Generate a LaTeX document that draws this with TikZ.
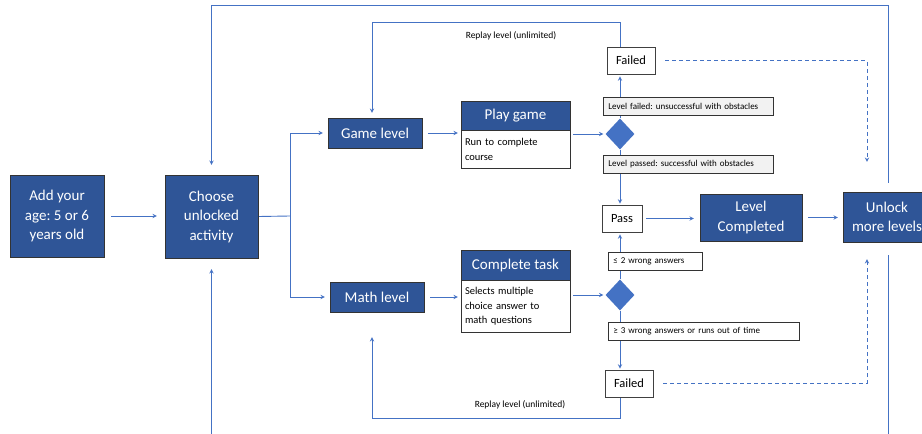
\documentclass[tikz,border=0pt]{standalone}
\usepackage{fontspec}
\setmainfont{Carlito}
\frenchspacing
\usetikzlibrary{positioning}
\usetikzlibrary{backgrounds}
\usetikzlibrary{shapes.geometric}
\definecolor{boxblue}{HTML}{2F5597}
\definecolor{lineblue}{HTML}{4472C4}
\definecolor{labelgray}{HTML}{F2F2F2}
\def\mybig{\fontsize{15}{19.5}\selectfont}
\def\mysmall{\fontsize{9}{11}\selectfont}
\tikzset{
semithick, % thin lines
>=stealth, % small arrow heads
my node/.style={inner sep=1mm,align=center},
my box/.style={my node,draw=black!80,fill=boxblue,text=white,font=\mybig},
my state/.style={my node,draw=black!75,fill=white,line width=.9pt,font=\fontsize{12.5}{15}\selectfont},
task head/.style={my box,minimum width=109pt,minimum height=29pt},
task body/.style={my node,draw=black!80,fill=white,text width=101pt,inner sep=4pt,align=left,font=\fontsize{10.5}{14.5}\selectfont},
decision/.style={diamond,fill=lineblue,minimum width=29pt,minimum height=31pt,inner sep=0pt},
cond/.style={my node,draw=black!80,line width=.9pt,inner xsep=5pt,inner ysep=2pt,align=left,anchor=west,font=\mysmall,minimum height=18pt},
cond gray/.style={cond,fill=labelgray},
cond white/.style={cond,fill=white},
flow/.style={draw=lineblue,line width=.9pt},
arrow/.style={flow,->},
retry/.style={flow,dash pattern=on 4pt off 3pt,->},
replay/.style={my node,font=\fontsize{9.5}{11}\selectfont},
}
\begin{document}
\begin{tikzpicture}[x=1pt,y=-1pt]
\useasboundingbox (0,0) rectangle (922,434);
% main boxes
\node[my box,minimum width=94pt,minimum height=82pt] (age) at (57,216) {Add your\\age: 5 or 6\\years old};
\node[my box,minimum width=93pt,minimum height=83pt] (choose) at (211.5,216.5) {Choose\\unlocked\\activity};
\node[my box,minimum width=94pt,minimum height=30pt] (game) at (375,133) {Game level};
\node[my box,minimum width=94pt,minimum height=30pt] (math) at (377,297) {Math level};
\node[task head] (playhead) at (515.5,115.5) {Play game};
\node[task body,minimum height=38pt,below=0pt of playhead] (playbody) {Run to complete\\course};
\node[task head,minimum height=30pt] (taskhead) at (515.5,265) {Complete task};
\node[task body,minimum height=52pt,below=0pt of taskhead] (taskbody) {Selects multiple\\choice answer to\\math questions};
\node[decision] (gamedec) at (620,134) {};
\node[decision] (mathdec) at (620,295) {};
\node[my state,minimum width=48pt,minimum height=27pt] (failtop) at (631,60.5) {Failed};
\node[my state,minimum width=48pt,minimum height=27pt] (failbot) at (629,383.5) {Failed};
\node[my state,minimum width=40pt,minimum height=27pt] (pass) at (622,218.5) {Pass};
\node[my box,minimum width=102pt,minimum height=47pt] (done) at (751,217.5) {Level\\Completed};
\node[my box,minimum width=88pt,minimum height=50pt] (unlock) at (887,217) {Unlock\\more levels};
% condition labels
\node[cond gray,text width=160pt] (failedlbl) at (603,106) {Level failed: unsuccessful with obstacles};
\node[cond gray,text width=160pt] (passedlbl) at (603,164.5) {Level passed: successful with obstacles};
\node[cond white,text width=84pt] (fewlbl) at (608,261.5) {≤ 2 wrong answers};
\node[cond white,text width=181pt] (manylbl) at (608,331.5) {≥ 3 wrong answers or runs out of time};
\node[replay] (replaytop) at (511,36) {Replay level (unlimited)};
\node[replay] (replaybot) at (520,405) {Replay level (unlimited)};
\coordinate (split) at (290,216);
\coordinate (looptop) at (0,5);
\coordinate (loopbot) at (0,450);
\coordinate (replay up) at (372,22);
\coordinate (replay down) at (372,418);
\begin{scope}[on background layer]
\draw[arrow,shorten <=7pt,shorten >=8pt] (age.east) -- (age.east -| choose.west);
\draw[flow] (choose.east) -- (split);
\draw[arrow,shorten >=5pt] (split) |- (game.west);
\draw[arrow,shorten >=5pt] (split) |- (math.west);
\draw[arrow,shorten <=6pt,shorten >=3pt] (game.east) -- (game.east -| playbody.west);
\draw[arrow,shorten <=6pt,shorten >=3pt] (math.east) -- (math.east -| taskbody.west);
\draw[arrow,shorten <=3pt,shorten >=2pt] (gamedec.west -| playbody.east) -- (gamedec.west);
\draw[arrow,shorten <=3pt,shorten >=2pt] (mathdec.west -| taskbody.east) -- (mathdec.west);
\draw[arrow,shorten >=2pt] (gamedec.north) -- (gamedec.north |- failtop.south);
\draw[arrow,shorten >=1pt] (gamedec.south) -- (gamedec.south |- pass.north);
\draw[arrow,shorten >=2pt] (mathdec.north) -- (mathdec.north |- pass.south);
\draw[arrow,shorten >=1pt] (mathdec.south) -- (mathdec.south |- failbot.north);
\draw[arrow,shorten <=4pt,shorten >=6pt] (pass.east) -- (pass.east -| done.west);
\draw[arrow,shorten <=6pt,shorten >=5pt] (done.east) -- (done.east -| unlock.west);
\draw[retry,shorten <=10pt,shorten >=30pt] (failtop.east) -| ([xshift=-20pt]unlock.north);
\draw[retry,shorten <=10pt,shorten >=17pt] (failbot.east) -| ([xshift=-20pt]unlock.south);
\draw[arrow,shorten <=9pt,shorten >=10pt] ([xshift=1pt]unlock.north) |- (looptop -| choose.north) -- (choose.north);
\draw[arrow,shorten <=13pt,shorten >=11pt] ([xshift=1pt]unlock.south) |- (loopbot -| choose.south) -- (choose.south);
\draw[arrow,shorten >=5pt] (gamedec.north |- failtop.north) |- (replay up) -- (replay up |- game.north);
\draw[arrow,shorten >=25pt] (mathdec.south |- failbot.south) |- (replay down) -- (replay down |- math.south);
\end{scope}
\end{tikzpicture}
\end{document}
